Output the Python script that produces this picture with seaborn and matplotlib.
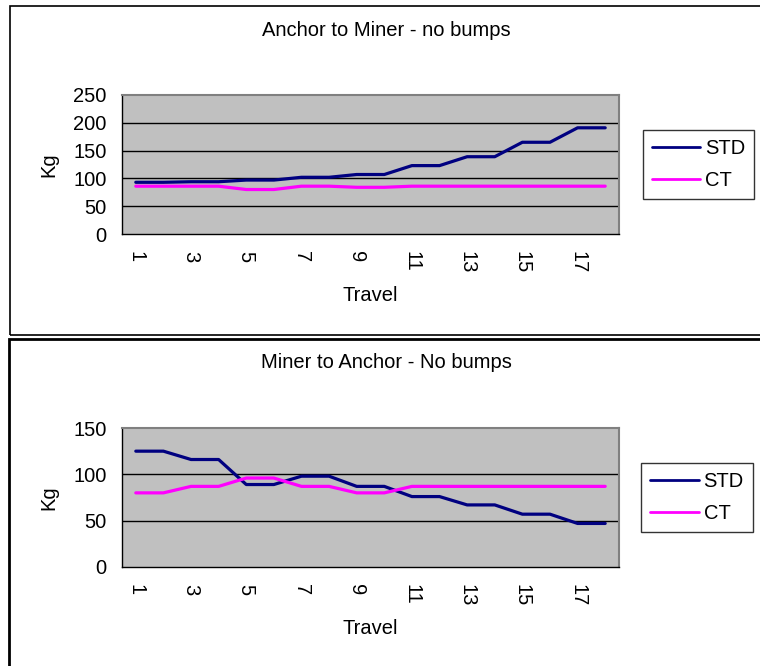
import matplotlib
matplotlib.use("Agg")
import matplotlib.pyplot as plt
import seaborn as sns
import pandas as pd
import numpy as np
from matplotlib.patches import Rectangle
from matplotlib.lines import Line2D

# ---- data ----
travel = list(range(1, 19))
am_std = [93, 93, 94, 94, 97, 97, 102, 102, 107, 107, 123, 123, 139, 139, 165, 165, 191, 191]
am_ct = [86, 86, 86, 86, 80, 80, 86, 86, 84, 84, 86, 86, 86, 86, 86, 86, 86, 86]
ma_std = [125, 125, 116, 116, 89, 89, 98, 98, 87, 87, 76, 76, 67, 67, 57, 57, 47, 47]
ma_ct = [80, 80, 87, 87, 96, 96, 87, 87, 80, 80, 87, 87, 87, 87, 87, 87, 87, 87]
series_names = ["STD", "CT"]
titles = ["Anchor to Miner - no bumps", "Miner to Anchor - No bumps"]
y_ticks_top = [0, 50, 100, 150, 200, 250]
y_ticks_bottom = [0, 50, 100, 150]

sns.set_style("white")
plt.rcParams['font.family'] = ['Liberation Sans', 'DejaVu Sans']
plt.rcParams['text.color'] = 'black'
plt.rcParams['axes.labelcolor'] = 'black'
plt.rcParams['xtick.color'] = 'black'
plt.rcParams['ytick.color'] = 'black'

FS = 14.5
W, H = 760, 666
fig = plt.figure(figsize=(W / 100, H / 100), dpi=100)

def fx(px):
    return px / W

def fy(py):
    return 1 - py / H

# panel borders
for (x0, y0, x1, y1, lw) in [(10, 6, 775, 334.5, 1.2), (8.5, 339.5, 775, 680, 2.0)]:
    fig.add_artist(Rectangle((fx(x0), fy(y1)), fx(x1) - fx(x0), fy(y0) - fy(y1),
                             transform=fig.transFigure, fill=False,
                             edgecolor="black", linewidth=lw, clip_on=False))

palette = {"STD": "#000080", "CT": "#FF00FF"}

def make_panel(top_px, bottom_px, std, ct, title, yticks, title_y, legend_box):
    ax = fig.add_axes([fx(122), fy(bottom_px), fx(619) - fx(122), fy(top_px) - fy(bottom_px)])
    df = pd.DataFrame({
        "pos": list(range(len(travel))) * 2,
        "Kg": std + ct,
        "series": ["STD"] * len(std) + ["CT"] * len(ct),
    })
    sns.lineplot(data=df, x="pos", y="Kg", hue="series", hue_order=series_names,
                 palette=palette, linewidth=2.3, ax=ax, legend=False)
    ax.set_facecolor("#C0C0C0")
    ax.set_xlim(-0.5, len(travel) - 0.5)
    ax.set_ylim(yticks[0], yticks[-1])
    ax.set_yticks(yticks)
    ax.set_yticklabels([str(v) for v in yticks], fontsize=FS)
    for v in yticks[1:-1]:
        ax.axhline(v, color="black", linewidth=1.0, zorder=1)
    ax.set_xticks(np.arange(-0.5, len(travel), 1.0))
    ax.set_xticklabels([])
    ax.set_xticks(np.arange(0, len(travel), 2), minor=True)
    ax.set_xticklabels([str(t) for t in travel[::2]], minor=True, rotation=270,
                       fontsize=FS, ha="center", va="top")
    ax.tick_params(axis="x", which="major", direction="out", length=5, width=1, color="black")
    ax.tick_params(axis="x", which="minor", length=0, pad=12)
    ax.tick_params(axis="y", direction="out", length=5, width=1, color="black", pad=6)
    for s in ["top", "right"]:
        ax.spines[s].set_color("#808080")
        ax.spines[s].set_linewidth(1.5)
    for s in ["left", "bottom"]:
        ax.spines[s].set_color("black")
        ax.spines[s].set_linewidth(1.0)
    ax.set_xlabel("Travel", fontsize=FS, labelpad=9)
    ax.set_ylabel("Kg", fontsize=FS, labelpad=11)
    fig.text(fx(386), fy(title_y), title, ha="center", va="center", fontsize=FS)
    handles = [Line2D([], [], color=palette[n], linewidth=2.0) for n in series_names]
    lx0, ly0, lx1, ly1 = legend_box
    leg = fig.legend(handles, series_names, loc="center",
                     bbox_to_anchor=(fx((lx0 + lx1) / 2), fy((ly0 + ly1) / 2)),
                     frameon=True, fancybox=False, fontsize=FS, handlelength=2.4,
                     handletextpad=0.25, borderpad=0.45, labelspacing=0.65,
                     borderaxespad=0)
    leg.get_frame().set_edgecolor("black")
    leg.get_frame().set_linewidth(1.0)
    return ax

make_panel(95, 234, am_std, am_ct, titles[0], y_ticks_top, 30, (642, 131, 755, 198))
make_panel(428, 567, ma_std, ma_ct, titles[1], y_ticks_bottom, 363, (640, 464, 754, 531))

fig.savefig("out.png", dpi=100)
